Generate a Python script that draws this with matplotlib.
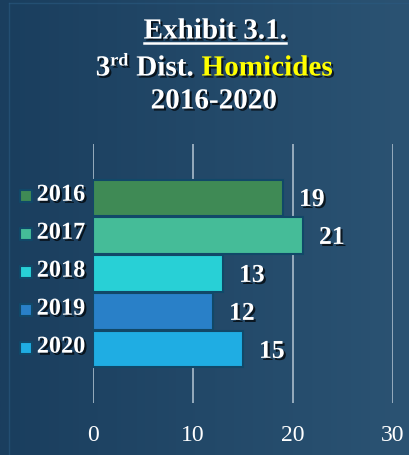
import numpy as np
import matplotlib
matplotlib.use("Agg")
import matplotlib.pyplot as plt
import matplotlib.patheffects as pe
from matplotlib.lines import Line2D

years = ["2016", "2017", "2018", "2019", "2020"]
homicides = [19, 21, 13, 12, 15]
bar_colors = ["#3f8a55", "#45bc98", "#28d0d6", "#2980c8", "#1fade3"]
x_ticks = [0, 10, 20, 30]

W, H = 410, 455
SERIF = ["Liberation Serif", "DejaVu Serif"]
shadow = [pe.withSimplePatchShadow(offset=(1.5, -1.5), shadow_rgbFace="black", alpha=0.7)]

fig = plt.figure(figsize=(W / 100, H / 100), dpi=100)

# background gradient
bg = fig.add_axes([0, 0, 1, 1], zorder=-10)
grad = np.linspace(0, 1, 256).reshape(1, -1)
cmap = matplotlib.colors.LinearSegmentedColormap.from_list("bg", ["#1a3e5e", "#2b5373"])
bg.imshow(grad, aspect="auto", cmap=cmap, extent=[0, 1, 0, 1])
bg.plot([9 / W, 9 / W], [0, 1 - 3 / H], color="#2a5a80", lw=1, alpha=0.6)
bg.plot([9 / W, 1], [1 - 3 / H, 1 - 3 / H], color="#2a5a80", lw=1, alpha=0.6)
bg.set_xlim(0, 1)
bg.set_ylim(0, 1)
bg.axis("off")

ax = fig.add_axes([93 / W, 1 - 403 / H, 300 / W, 259 / H])
ax.patch.set_alpha(0)
ypos = np.arange(len(years))
ax.barh(ypos, homicides, height=0.95, color=bar_colors, edgecolor="#114868",
        linewidth=1.5, zorder=3)
ax.set_xlim(0, 30)
ax.set_ylim(len(years) - 1 + 1.41, -1.41)
ax.set_xticks(x_ticks)
for x in x_ticks:
    ax.axvline(x, color="#9fb3c3", lw=1.3, zorder=1)
for s in ax.spines.values():
    s.set_visible(False)
ax.tick_params(axis="x", length=0, pad=16, labelcolor="white", labelsize=17)
for lab in ax.get_xticklabels():
    lab.set_family(SERIF)
ax.set_yticks([])

ytr = ax.get_yaxis_transform()
for i, (yr, v, c) in enumerate(zip(years, homicides, bar_colors)):
    ax.text(-8 / 300, i - 0.06, yr, transform=ytr, ha="right", va="center",
            color="white", fontsize=17.5, fontweight="bold", family=SERIF,
            path_effects=shadow)
    ax.scatter([-67 / 300], [i - 0.05], transform=ytr, marker="s", s=70,
               color=c, edgecolor="#114868", linewidth=1.5, clip_on=False, zorder=4)
    ax.text(v + 1.6, i + 0.05, str(v), ha="left", va="center", color="white",
            fontsize=18.5, fontweight="bold", family=SERIF, path_effects=shadow)

# title
renderer = fig.canvas.get_renderer()
t1 = fig.text(215 / W, 1 - 38.5 / H, "Exhibit 3.1.", ha="center", va="baseline",
              color="white", fontsize=21, fontweight="bold", family=SERIF,
              path_effects=shadow)
bb = t1.get_window_extent(renderer)
fig.add_artist(Line2D([bb.x0 / W, bb.x1 / W], [1 - 43 / H, 1 - 43 / H],
                      color="white", lw=1.8, transform=fig.transFigure))

pieces = [("3", "white", 21, 0, 0),
          ("rd", "white", 13, 10, 0),
          ("Dist.", "white", 21, 0, 8),
          ("Homicides", "#ffff00", 21, 0, 8)]
arts = []
for s, col, size, dy, gap in pieces:
    t = fig.text(0, 1 - (75.5 - dy) / H, s, ha="left", va="baseline", color=col,
                 fontsize=size, fontweight="bold", family=SERIF, path_effects=shadow)
    arts.append((t, gap))
widths = [t.get_window_extent(renderer).width for t, _ in arts]
total = sum(widths) + sum(g for _, g in arts)
x = 214 - total / 2
for (t, gap), w in zip(arts, widths):
    x += gap
    t.set_x(x / W)
    x += w

fig.text(214 / W, 1 - 108.5 / H, "2016-2020", ha="center", va="baseline",
         color="white", fontsize=21, fontweight="bold", family=SERIF,
         path_effects=shadow)

fig.savefig("out.png", dpi=100)
